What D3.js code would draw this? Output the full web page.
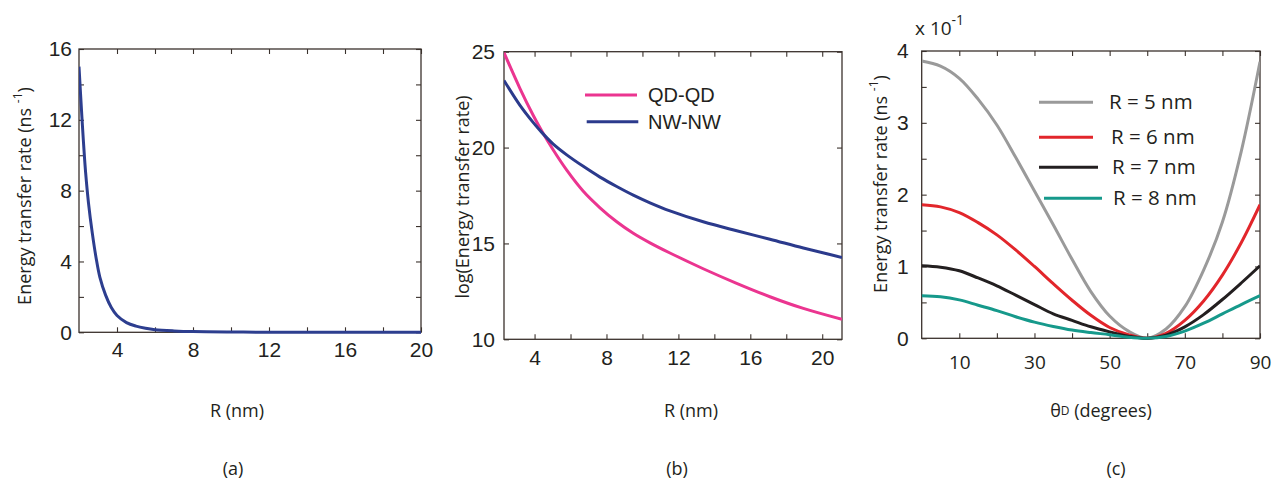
<!DOCTYPE html>
<html>
<head>
<meta charset="utf-8">
<script src="https://cdn.jsdelivr.net/npm/d3@7"></script>
<style>
  html, body { margin: 0; padding: 0; background: #ffffff; }
  svg { display: block; }
</style>
</head>
<body>
<svg id="fig" width="1285" height="485"></svg>
<script>
// ---------- data ----------
// (a) energy transfer rate (ns^-1) against separation R (nm)
const rA    = [2.0, 2.15, 2.25, 2.35, 2.5, 2.7, 2.9, 3.1, 3.4, 3.7, 4.0, 4.5, 5.0, 5.5, 6.0, 7.0, 8.0, 10, 12, 16, 20];
const rateA = [15.0, 12.2, 10.5, 9.0, 7.3, 5.6, 4.2, 3.1, 2.1, 1.4, 0.95, 0.55, 0.35, 0.23, 0.15, 0.08, 0.04, 0.015, 0.007, 0.002, 0.001];

// (b) log of the transfer rate for dot pairs and wire pairs
const rB    = [2.3, 3.19, 3.93, 4.45, 5.04, 5.79, 6.71, 7.64, 8.57, 9.49, 10.42, 11.53, 13.38, 15.24, 17.09, 18.95, 21.1];
const logQD = [24.95, 23.08, 21.67, 20.78, 19.87, 18.82, 17.72, 16.86, 16.13, 15.53, 15.03, 14.50, 13.68, 12.92, 12.22, 11.61, 11.04];
const logNW = [23.50, 22.20, 21.30, 20.74, 20.18, 19.62, 19.02, 18.46, 17.97, 17.52, 17.12, 16.70, 16.13, 15.66, 15.22, 14.76, 14.27];
const seriesB = ["QD-QD", "NW-NW"];

// (c) transfer rate (x 10^-1 ns^-1) against donor angle, for four separations
const thetaC = [0, 5, 10, 15, 20, 25, 30, 35, 40, 45, 50, 55, 60, 65, 70, 75, 80, 85, 90];
const rateR5 = [3.86, 3.79, 3.62, 3.33, 2.97, 2.52, 2.05, 1.58, 1.10, 0.65, 0.31, 0.10, 0.0, 0.13, 0.44, 0.95, 1.62, 2.60, 3.85];
const rateR6 = [1.86, 1.83, 1.75, 1.61, 1.44, 1.23, 1.00, 0.76, 0.53, 0.32, 0.15, 0.05, 0.0, 0.07, 0.25, 0.52, 0.88, 1.33, 1.86];
const rateR7 = [1.01, 0.99, 0.94, 0.84, 0.73, 0.60, 0.47, 0.34, 0.25, 0.16, 0.09, 0.03, 0.0, 0.045, 0.16, 0.33, 0.54, 0.77, 1.01];
const rateR8 = [0.594, 0.58, 0.535, 0.46, 0.385, 0.30, 0.225, 0.165, 0.115, 0.08, 0.05, 0.015, 0.0, 0.025, 0.10, 0.21, 0.34, 0.47, 0.594];
const seriesC = ["R = 5 nm", "R = 6 nm", "R = 7 nm", "R = 8 nm"];

// ---------- styling ----------
const ink = "#231f20";
const frameInk = "#3b322d";
const numFont = "'Liberation Sans', Arial, Helvetica, sans-serif";
const txtFont = "'Open Sans', 'Noto Sans', sans-serif";
const colA = "#2d3e8f";
const colB = { "QD-QD": "#eb3590", "NW-NW": "#2b3a8c" };
const colC = { "R = 5 nm": "#9a9a9a", "R = 6 nm": "#e2262b", "R = 7 nm": "#231f20", "R = 8 nm": "#16998b" };
const smooth = d3.curveCatmullRom.alpha(0.5);

const svg = d3.select("#fig");
svg.append("rect").attr("width", 1285).attr("height", 485).attr("fill", "#ffffff");

// Box frame with inward ticks on all four sides
function drawFrame(g, x, y, o) {
  const [x0, x1] = x.range();
  const [y0, y1] = y.range();
  const tick = 5;
  const style = sel => {
    sel.select(".domain").remove();
    sel.selectAll(".tick line").attr("stroke", frameInk).attr("stroke-width", 1.1);
    sel.selectAll(".tick text").attr("fill", ink);
  };
  g.append("g").attr("transform", `translate(0,${y0})`)
    .call(d3.axisBottom(x).tickValues(o.xTicks).tickSizeInner(-tick).tickSizeOuter(0)
      .tickPadding(o.xPad).tickFormat(d => o.xLabels.includes(d) ? String(d) : ""))
    .call(style)
    .attr("font-family", o.xFont).attr("font-size", o.xSize);
  g.append("g").attr("transform", `translate(0,${y1})`)
    .call(d3.axisTop(x).tickValues(o.xTicks).tickSizeInner(-tick).tickSizeOuter(0).tickFormat(""))
    .call(style);
  g.append("g").attr("transform", `translate(${x0},0)`)
    .call(d3.axisLeft(y).tickValues(o.yTicks).tickSizeInner(-tick).tickSizeOuter(0)
      .tickPadding(o.yPad).tickFormat(d => o.yLabels.includes(d) ? String(d) : ""))
    .call(style)
    .attr("font-family", numFont).attr("font-size", 21);
  g.append("g").attr("transform", `translate(${x1},0)`)
    .call(d3.axisRight(y).tickValues(o.yTicks).tickSizeInner(-tick).tickSizeOuter(0).tickFormat(""))
    .call(style);
  g.append("rect")
    .attr("x", x0).attr("y", y1).attr("width", x1 - x0).attr("height", y0 - y1)
    .attr("fill", "none").attr("stroke", frameInk).attr("stroke-width", 1.3);
}

function clipFor(id, x, y) {
  const [x0, x1] = x.range();
  const [y0, y1] = y.range();
  svg.append("clipPath").attr("id", id)
    .append("rect").attr("x", x0).attr("y", y1 - 2).attr("width", x1 - x0).attr("height", y0 - y1 + 4);
  return `url(#${id})`;
}

// Rotated y-axis title with optional superscript
function yTitle(cx, cy, main, sup, tail) {
  const t = svg.append("text")
    .attr("transform", `translate(${cx},${cy}) rotate(-90)`)
    .attr("text-anchor", "middle").attr("dominant-baseline", "central")
    .attr("font-family", txtFont).attr("font-size", 18).attr("fill", ink);
  t.append("tspan").text(main);
  if (sup) {
    t.append("tspan").attr("font-size", 12).attr("dy", -7).text(sup);
    t.append("tspan").attr("dy", 7).text(tail);
  }
}

function caption(cx, cy, txt) {
  svg.append("text").attr("x", cx).attr("y", cy)
    .attr("text-anchor", "middle").attr("dominant-baseline", "central")
    .attr("font-family", txtFont).attr("font-size", 18).attr("fill", ink).text(txt);
}

// ---------- panel (a) ----------
{
  const x = d3.scaleLinear().domain([2, 20]).range([79, 421]);
  const y = d3.scaleLinear().domain([0, 16]).range([332.3, 49]);
  const g = svg.append("g");
  drawFrame(g, x, y, {
    xTicks: [4, 6, 8, 10, 12, 14, 16, 18, 20], xLabels: [4, 8, 12, 16, 20], xPad: 10,
    xFont: numFont, xSize: 21,
    yTicks: [0, 2, 4, 6, 8, 10, 12, 14, 16], yLabels: [0, 4, 8, 12, 16], yPad: 7
  });
  const line = d3.line().x((d, i) => x(rA[i])).y(d => y(d)).curve(smooth);
  g.append("path").datum(rateA).attr("d", line)
    .attr("clip-path", clipFor("clipA", x, y))
    .attr("fill", "none").attr("stroke", colA).attr("stroke-width", 3);
  yTitle(24, 196, "Energy transfer rate (ns ", "-1", ")");
  caption(237, 410, "R (nm)");
  caption(233, 468, "(a)");
}

// ---------- panel (b) ----------
{
  const x = d3.scaleLinear().domain([2.3, 21.1]).range([504, 842]);
  const y = d3.scaleLinear().domain([10, 25]).range([339.3, 51.7]);
  const g = svg.append("g");
  drawFrame(g, x, y, {
    xTicks: [4, 6, 8, 10, 12, 14, 16, 18, 20], xLabels: [4, 8, 12, 16, 20], xPad: 11,
    xFont: numFont, xSize: 21,
    yTicks: [10, 15, 20, 25], yLabels: [10, 15, 20, 25], yPad: 9
  });
  const clip = clipFor("clipB", x, y);
  const values = { "QD-QD": logQD, "NW-NW": logNW };
  const line = d3.line().x((d, i) => x(rB[i])).y(d => y(d)).curve(smooth);
  seriesB.forEach(name => {
    g.append("path").datum(values[name]).attr("d", line).attr("clip-path", clip)
      .attr("fill", "none").attr("stroke", colB[name]).attr("stroke-width", 3);
  });
  // legend
  const leg = g.append("g");
  seriesB.forEach((name, i) => {
    const ly = 95 + i * 26.7;
    leg.append("line").attr("x1", 585 + i * 1.7).attr("x2", 637 + i * 1.3).attr("y1", ly).attr("y2", ly)
      .attr("stroke", colB[name]).attr("stroke-width", 3);
    leg.append("text").attr("x", 648).attr("y", ly).attr("dominant-baseline", "central")
      .attr("font-family", numFont).attr("font-size", 20).attr("fill", ink).text(name);
  });
  yTitle(462, 197, "log(Energy transfer rate)");
  caption(691, 410, "R (nm)");
  caption(677, 468, "(b)");
}

// ---------- panel (c) ----------
{
  const x = d3.scaleLinear().domain([0, 90]).range([921.7, 1260]);
  const y = d3.scaleLinear().domain([0, 4]).range([338.3, 51]);
  const g = svg.append("g");
  drawFrame(g, x, y, {
    xTicks: [10, 20, 30, 40, 50, 60, 70, 80, 90], xLabels: [10, 30, 50, 70, 90], xPad: 17,
    xFont: txtFont, xSize: 19,
    yTicks: [0, 0.5, 1, 1.5, 2, 2.5, 3, 3.5, 4], yLabels: [0, 1, 2, 3, 4], yPad: 13
  });
  const clip = clipFor("clipC", x, y);
  const values = { "R = 5 nm": rateR5, "R = 6 nm": rateR6, "R = 7 nm": rateR7, "R = 8 nm": rateR8 };
  const line = d3.line().x((d, i) => x(thetaC[i])).y(d => y(d)).curve(smooth);
  seriesC.forEach(name => {
    g.append("path").datum(values[name]).attr("d", line).attr("clip-path", clip)
      .attr("fill", "none").attr("stroke", colC[name]).attr("stroke-width", 3);
  });
  // legend
  const legX1 = [1039, 1039, 1039, 1044];
  const legX2 = [1093, 1093, 1098, 1102];
  const legY = [102.3, 137.3, 167.3, 198.3];
  const legT = [1109, 1111, 1112, 1113];
  seriesC.forEach((name, i) => {
    g.append("line").attr("x1", legX1[i]).attr("x2", legX2[i]).attr("y1", legY[i]).attr("y2", legY[i])
      .attr("stroke", colC[name]).attr("stroke-width", 3);
    g.append("text").attr("x", legT[i]).attr("y", legY[i] - 1).attr("dominant-baseline", "central")
      .attr("font-family", txtFont).attr("font-size", 20.5).attr("fill", ink).text(name);
  });
  // scale factor above the y axis
  const sf = svg.append("text").attr("x", 915).attr("y", 35)
    .attr("font-family", txtFont).attr("font-size", 19).attr("fill", ink);
  sf.append("tspan").text("x 10");
  sf.append("tspan").attr("font-size", 14).attr("dy", -10).text("-1");

  yTitle(880, 184, "Energy transfer rate (ns ", "-1", ")");
  // theta with small-capital D subscript
  const xt = svg.append("text").attr("x", 1101).attr("y", 410)
    .attr("text-anchor", "middle").attr("dominant-baseline", "central")
    .attr("font-family", txtFont).attr("font-size", 18).attr("fill", ink);
  xt.append("tspan").text("θ");
  xt.append("tspan").attr("font-size", 12).text("D");
  xt.append("tspan").text(" (degrees)");
  caption(1116, 468, "(c)");
}
</script>
</body>
</html>
